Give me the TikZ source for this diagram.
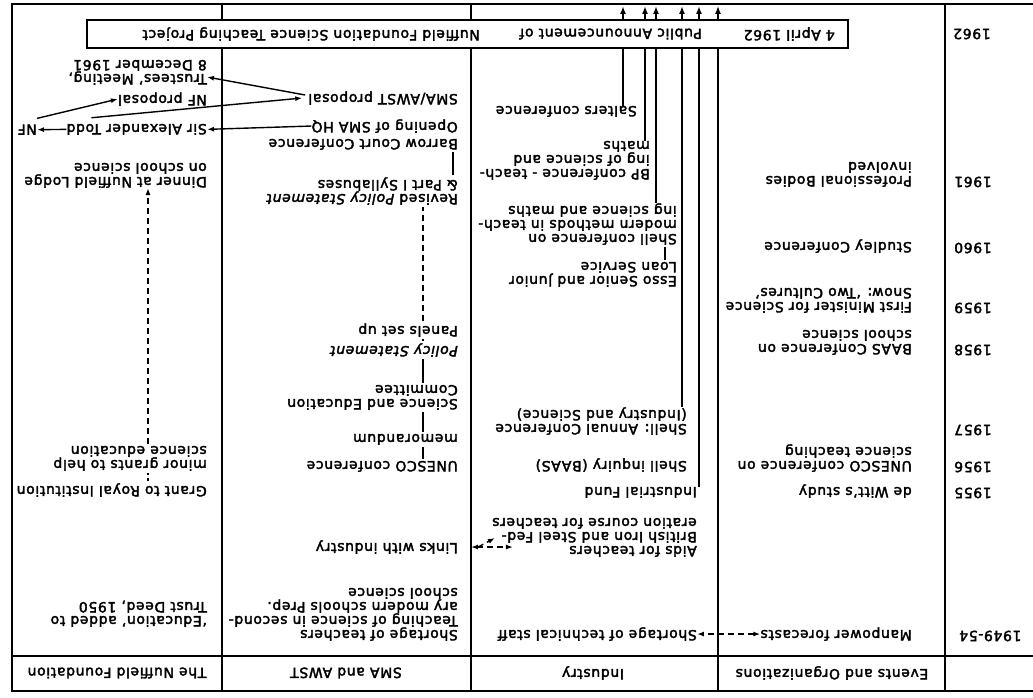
\documentclass[tikz,border=0pt]{standalone}
\usepackage{fontspec}
\setmainfont{DejaVu Sans}[LetterSpace=4.5, FakeBold=2.5]
\usetikzlibrary{arrows.meta}

\tikzset{
  entry/.style={anchor=north west, inner sep=0pt, align=left, font=\fontsize{14}{14}\selectfont},
  head/.style={inner sep=0pt, font=\fontsize{14}{14}\selectfont},
  yearlabel/.style={anchor=east, inner sep=0pt, font=\fontsize{14}{14}\selectfont},
  boxtext/.style={anchor=west, inner sep=0pt, font=\fontsize{14}{14}\selectfont},
  rule/.style={line width=1.4pt},
  tick/.style={line width=1.7pt, shorten <=2pt, shorten >=2pt},
  feed/.style={line width=1.8pt, -{Latex[length=8pt,width=6pt]}},
  link/.style={line width=1.4pt, -{Latex[length=7pt,width=5pt]}},
  dlink/.style={line width=1.4pt, dash pattern=on 6pt off 4pt, {Latex[length=7pt,width=5pt]}-{Latex[length=7pt,width=5pt]}},
}

\begin{document}
\begin{tikzpicture}[x=1pt, y=1pt, rotate=180, transform shape]
    \useasboundingbox (0,0) rectangle (1033,698);
    \draw[line width=1.8pt] (0,691) -- (1021,691) -- (1021,4) -- (0,4);
    \draw[rule] (0,656) -- (1021,656);
    \draw[rule] (88,4) -- (88,691);
    \draw[rule] (562,4) -- (562,691);
    \draw[rule] (811,4) -- (811,691);
    \draw[feed, line width=1.4pt] (315,691) -- (315,6);

    \node (hevents) at (201,673) [head] {Events and Organizations};
    \node (hindustry) at (440,673) [head] {Industry};
    \node (hsma) at (687,673) [head] {SMA and AWST};
    \node (hnuffield) at (916,673) [head] {The Nuffield Foundation};

    \node (y4954) at (74,636) [yearlabel] {1949-54};
    \node (y1955) at (79,493) [yearlabel] {1955};
    \node (y1956) at (79,467) [yearlabel] {1956};
    \node (y1957) at (79,430) [yearlabel] {1957};
    \node (y1958) at (79,350) [yearlabel] {1958};
    \node (y1959) at (79,308) [yearlabel] {1959};
    \node (y1960) at (79,248) [yearlabel] {1960};
    \node (y1961) at (79,182) [yearlabel] {1961};
    \node (y1962) at (80,34) [yearlabel] {1962};

    \node (manpower) at (121,641) [entry] {Manpower forecasts};
    \node (dewitt) at (121,498) [entry] {de Witt's study};
    \node (unescoev) at (121,472) [entry] {UNESCO conference on\\science teaching};
    \node (baas) at (121,355) [entry] {BAAS Conference on\\school science};
    \node (minister) at (121,313) [entry] {First Minister for Science\\Snow: ‘Two Cultures’};
    \node (studley) at (121,253) [entry] {Studley Conference};
    \node (profbodies) at (121,187) [entry] {Professional Bodies\\involved};

    \node (shortstaff) at (336,641) [entry] {Shortage of technical staff};
    \node (aids) at (336,557) [entry] {Aids for teachers};
    \node (bisf) at (336,543) [entry] {British Iron and Steel Fed-\\eration course for teachers};
    \node (indfund) at (336,498) [entry] {Industrial Fund};
    \node (shellinq) at (346,472) [entry] {Shell inquiry (BAAS)};
    \node (shellann) at (346,435) [entry] {Shell: Annual Conference\\(Industry and Science)};
    \node (esso) at (356,287) [entry] {Esso Senior and Junior\\Loan Service};
    \node (shellmeth) at (356,245) [entry] {Shell conference on\\modern methods in teach-\\ing science and maths};
    \node (bp) at (383,180) [entry] {BP conference - teach-\\ing of science and\\maths};
    \node (salters) at (396,117) [entry] {Salters conference};

    \node (shortteach) at (575,641) [entry] {Shortage of teachers\\Teaching of science in second-\\ary modern schools Prep.\\school science};
    \node (links) at (575,554) [entry] {Links with industry};
    \node (unescosma) at (575,472) [entry] {UNESCO conference};
    \node (memo) at (575,445) [entry] {memorandum};
    \node (scied) at (575,410) [entry] {Science and Education\\Committee};
    \node (policy) at (575,357) [entry] {\itshape Policy Statement};
    \node (panels) at (575,337) [entry] {Panels set up};
    \node (revised) at (575,205) [entry] {Revised {\itshape Policy Statement}\\\& Part I Syllabuses};
    \node (barrow) at (575,150) [entry] {Barrow Court Conference};
    \node (opening) at (575,133) [entry] {Opening of SMA HQ};
    \node (proposal) at (575,105) [entry] {SMA/AWST proposal};

    \node (trustdeed) at (826,627) [entry] {‘Education’ added to\\Trust Deed, 1950};
    \node (grant) at (826,497) [entry] {Grant to Royal Institution};
    \node (minor) at (826,471) [entry] {minor grants to help\\science education};
    \node (dinner) at (826,188) [entry] {Dinner at Nuffield Lodge\\on school science};
    \node (todd) at (826,135) [entry] {Sir Alexander Todd};
    \node (nf) at (996,135) [entry] {NF};
    \node (nfprop) at (826,106) [entry] {NF proposal};
    \node (trustees) at (826,85) [entry] {Trustees' Meeting,\\8 December 1961};

    \coordinate (base) at (0,6);
    \coordinate (f1) at (410,0);
    \coordinate (f2) at (388,0);
    \coordinate (f3) at (377,0);
    \coordinate (f4) at (351,0);
    \coordinate (f5) at (334,0);
    \coordinate (f6) at (368,0);
    \coordinate (smaline) at (610,0);
    \coordinate (barline) at (580,0);
    \coordinate (nfline) at (885,0);

    \draw[dlink] (manpower.east) -- (shortstaff.west);
    \draw[dlink] ([xshift=-13pt]links.west) -- ([xshift=-55pt]links.west);
    \draw[link, dash pattern=on 6pt off 4pt] ([xshift=-20pt]links.west) -- ([xshift=-37pt,yshift=-9pt]links.west);

    \draw[feed] (salters.south -| f1) -- (f1 |- base);
    \draw[feed] (bp.south -| f2) -- (f2 |- base);
    \draw[feed] (shellmeth.south -| f3) -- (f3 |- base);
    \draw[feed] (shellann.south -| f4) -- (f4 |- base);
    \draw[feed] (indfund.south -| f5) -- (f5 |- base);
    \draw[tick] (esso.south -| f6) -- (shellmeth.north -| f6);

    \draw[tick] (unescosma.south -| smaline) -- (memo.north -| smaline);
    \draw[tick] (memo.south -| smaline) -- (scied.north -| smaline);
    \draw[tick] (scied.south -| smaline) -- (policy.north -| smaline);
    \draw[tick, dash pattern=on 6pt off 4pt] (policy.south -| smaline) -- (panels.north -| smaline);
    \draw[tick, dash pattern=on 6pt off 4pt] (panels.south -| smaline) -- (revised.north -| smaline);
    \draw[tick] (revised.south -| barline) -- (barrow.north -| barline);

    \draw[tick, dash pattern=on 3pt off 3pt] (grant.south -| nfline) -- (minor.north -| nfline);
    \draw[link, dash pattern=on 6pt off 4pt, shorten <=2pt] (minor.south -| nfline) -- (dinner.north -| nfline);

    \draw[link] (opening.east) -- (todd.west);
    \draw[link] (todd.east) -- (nf.west);
    \draw[link] ([xshift=-25pt,yshift=-6pt]todd.south east) -- ([xshift=6pt]proposal.east);
    \draw[link] ([yshift=-6pt]nf.south west) -- (nfprop.east);
    \draw[link] ([xshift=3pt,yshift=-3pt]proposal.east) -- ([yshift=-8pt]trustees.north west);

    \node (announce) at (565.5,34) [draw, line width=1.4pt, fill=white, minimum width=761pt, minimum height=28pt, inner sep=0pt] {};
    \node (date) at (198,34) [boxtext] {4 April 1962};
    \node (public) at (331,34) [boxtext] {Public Announcement of};
    \node (project) at (553,34) [boxtext] {Nuffield Foundation Science Teaching Project};
\end{tikzpicture}
\end{document}
